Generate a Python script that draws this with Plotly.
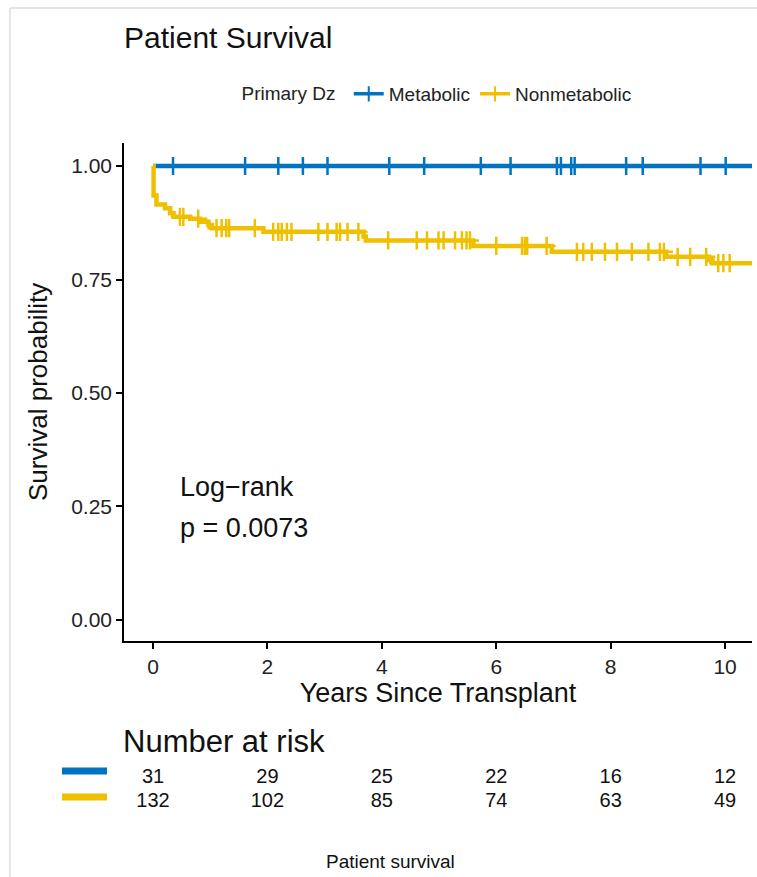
import plotly.graph_objects as go

# ---------------- data ----------------
groups = ["Metabolic", "Nonmetabolic"]
colors = ["#0073C2", "#EFC000"]

# Kaplan-Meier step points (time in years, survival)
met_times = [0.0, 11.0]
met_surv = [1.0, 1.0]
met_censor = [0.35, 1.61, 2.19, 2.62, 3.05, 4.13, 4.74, 5.73, 6.25, 7.06, 7.13,
              7.31, 7.37, 8.27, 8.56, 9.57, 10.01]

non_times = [0.0, 0.01, 0.06, 0.21, 0.30, 0.36, 0.65, 0.82, 0.97, 1.03, 1.93,
             3.68, 3.72, 5.60, 6.97, 8.97, 9.72, 9.78, 11.0]
non_surv = [1.0, 0.935, 0.915, 0.907, 0.896, 0.888, 0.884, 0.877, 0.870, 0.863,
            0.855, 0.845, 0.836, 0.824, 0.811, 0.800, 0.793, 0.786, 0.786]
non_censor = [0.47, 0.53, 0.79, 1.11, 1.20, 1.28, 1.33, 1.78, 2.10, 2.19, 2.25,
              2.34, 2.42, 2.89, 3.05, 3.21, 3.27, 3.40, 3.59, 4.11, 4.61, 4.79,
              4.99, 5.08, 5.28, 5.40, 5.48, 5.54, 6.00, 6.45, 6.50, 6.54, 6.88,
              7.41, 7.52, 7.67, 7.90, 8.11, 8.37, 8.66, 8.86, 8.93, 9.17, 9.39,
              9.67, 9.88, 9.97, 10.08]

risk_times = [0, 2, 4, 6, 8, 10]
risk_met = [31, 29, 25, 22, 16, 12]
risk_non = [132, 102, 85, 74, 63, 49]

x_ticks = [0, 2, 4, 6, 8, 10]
y_ticks = [0.0, 0.25, 0.50, 0.75, 1.00]

pvalue_text = ["Log\u2212rank", "p = 0.0073"]


def surv_at(t, times, surv):
    s = surv[0]
    for ti, si in zip(times, surv):
        if ti <= t:
            s = si
    return s


FONT = "Liberation Sans, Arial, sans-serif"
fig = go.Figure()

series = [
    (met_times, met_surv, met_censor),
    (non_times, non_surv, non_censor),
]
for name, col, (tt, ss, cc) in zip(groups, colors, series):
    fig.add_trace(go.Scatter(
        x=tt, y=ss, mode="lines", line=dict(color=col, width=4.5, shape="hv"),
        name=name, legendgroup=name, showlegend=False, xaxis="x", yaxis="y"))
    fig.add_trace(go.Scatter(
        x=cc, y=[surv_at(c, tt, ss) for c in cc], mode="markers",
        marker=dict(symbol="cross-thin", size=13, line=dict(color=col, width=2.5)),
        name=name, legendgroup=name, showlegend=False, xaxis="x", yaxis="y"))
    # legend entry
    fig.add_trace(go.Scatter(
        x=[None], y=[None], mode="lines+markers",
        line=dict(color=col, width=3.5),
        marker=dict(symbol="cross-thin", size=11, line=dict(color=col, width=2)),
        name=name, legendgroup=name, showlegend=True, xaxis="x", yaxis="y"))

# risk table
for col, rr, yv in zip(colors, [risk_met, risk_non], [1.0, 0.0]):
    fig.add_trace(go.Scatter(
        x=risk_times, y=[yv] * len(risk_times), mode="text",
        text=[str(v) for v in rr], textposition="middle center",
        textfont=dict(family=FONT, size=20, color="#111"), cliponaxis=False,
        showlegend=False, xaxis="x2", yaxis="y2", hoverinfo="skip"))

# layout geometry (pixels)
W, H = 757, 877
ML, MR, MT, MB = 124, 5, 143, 50
PW = W - ML - MR
PH = H - MT - MB


def px(xp):
    return (xp - ML) / PW


def py(yp):
    return (H - MB - yp) / PH


axis_common = dict(showgrid=False, zeroline=False, showline=True, linecolor="black",
                   linewidth=1.5, ticks="outside", ticklen=6, tickwidth=1.5,
                   tickcolor="black", tickfont=dict(family=FONT, size=21, color="#222"))

fig.update_layout(
    width=W, height=H,
    margin=dict(l=ML, r=MR, t=MT, b=MB),
    paper_bgcolor="white", plot_bgcolor="white",
    font=dict(family=FONT, color="#111"),
    title=dict(text="Patient Survival", x=px(124), xref="paper", xanchor="left",
               y=1 - 37 / H, yanchor="middle", yref="container",
               font=dict(family=FONT, size=30, color="#111")),
    xaxis=dict(range=[-0.507, 10.47], tickvals=x_ticks, domain=[0, 1], anchor="y",
               title=dict(text="Years Since Transplant", standoff=1,
                          font=dict(family=FONT, size=27, color="#111")),
               **axis_common),
    yaxis=dict(range=[-0.0463, 1.0507], tickvals=y_ticks, tickformat=".2f",
               domain=[py(641), 1], anchor="x", **axis_common),
    xaxis2=dict(range=[-0.507, 10.47], domain=[0, 1], anchor="y2", visible=False),
    yaxis2=dict(range=[0, 1], domain=[py(802), py(778)], anchor="x2", visible=False),
    legend=dict(orientation="h", x=0.5, xanchor="center", xref="paper",
                y=1 + (MT - 94) / PH, yanchor="middle",
                title=dict(text="Primary Dz ", font=dict(family=FONT, size=19, color="#222")),
                font=dict(family=FONT, size=19, color="#222"),
                itemwidth=30, bgcolor="rgba(0,0,0,0)"),
)

# y-axis title
fig.add_annotation(x=px(38), y=py(392), xref="paper", yref="paper",
                   text="Survival probability", textangle=-90, showarrow=False,
                   xanchor="center", yanchor="middle",
                   font=dict(family=FONT, size=26, color="#111"))

# log-rank annotation
fig.add_annotation(x=0.44, y=0.293, xref="x", yref="y", text=pvalue_text[0],
                   showarrow=False, xanchor="left", yanchor="middle",
                   font=dict(family=FONT, size=27, color="#111"))
fig.add_annotation(x=0.44, y=0.203, xref="x", yref="y", text=pvalue_text[1],
                   showarrow=False, xanchor="left", yanchor="middle",
                   font=dict(family=FONT, size=27, color="#111"))

# risk table title and caption
fig.add_annotation(x=px(121), y=py(741), xref="paper", yref="paper",
                   text="Number at risk", showarrow=False, xanchor="left",
                   yanchor="middle", font=dict(family=FONT, size=31, color="#111"))
fig.add_annotation(x=px(390), y=py(862), xref="paper", yref="paper",
                   text="Patient survival", showarrow=False, xanchor="center",
                   yanchor="middle", font=dict(family=FONT, size=19, color="#111"))

# risk-table colour keys
for col, yp in zip(colors, [771, 797]):
    fig.add_shape(type="line", xref="paper", yref="paper",
                  x0=px(62), x1=px(107), y0=py(yp), y1=py(yp),
                  line=dict(color=col, width=7))

# light frame (top & left)
fig.add_shape(type="line", xref="paper", yref="paper", x0=px(10), x1=px(757),
              y0=py(8), y1=py(8), line=dict(color="#dcdcdc", width=1.5))
fig.add_shape(type="line", xref="paper", yref="paper", x0=px(10), x1=px(10),
              y0=py(8), y1=py(877), line=dict(color="#dcdcdc", width=1.5))

fig.write_html("out.html")
